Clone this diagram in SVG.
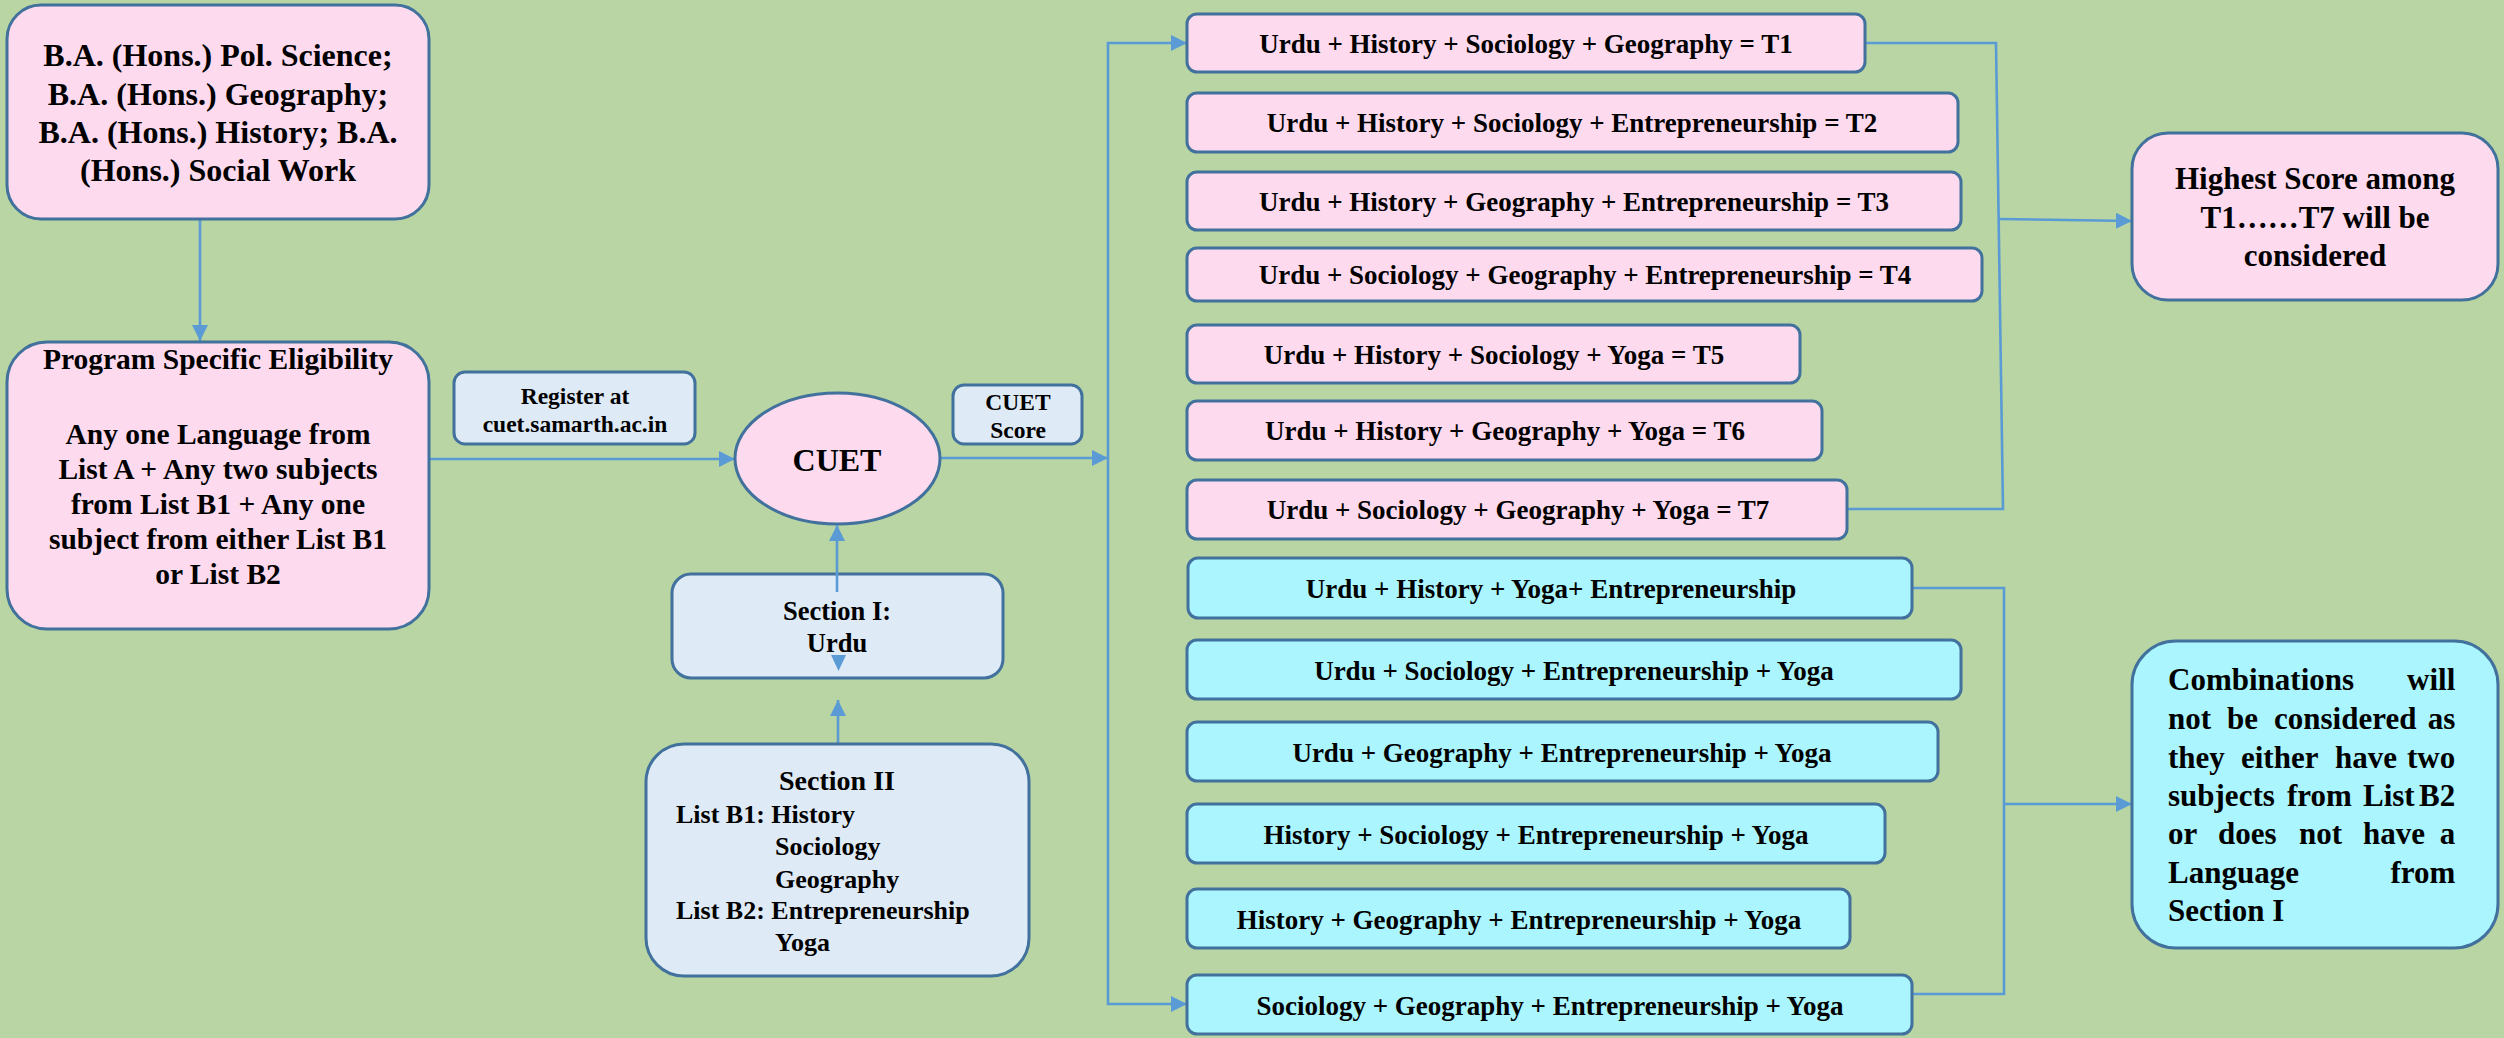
<svg xmlns="http://www.w3.org/2000/svg" width="2504" height="1038" viewBox="0 0 2504 1038">
<defs>
<marker id="ah" markerUnits="userSpaceOnUse" markerWidth="17" markerHeight="16" refX="16" refY="8" orient="auto">
<path d="M0,0 L16,8 L0,16 Z" fill="#5B9BD5"/>
</marker>
<style>
.bg{fill:#B8D5A3}
.pink{fill:#FDDAEE;stroke:#41719C;stroke-width:3}
.lb{fill:#DEEAF6;stroke:#41719C;stroke-width:3}
.cy{fill:#AAF5FE;stroke:#41719C;stroke-width:3}
.c{fill:none;stroke:#5B9BD5;stroke-width:2.6}
.t{font-family:'Liberation Serif',Tinos,'Times New Roman','DejaVu Serif',serif;font-weight:700;fill:#000}
.m{text-anchor:middle}
.r{font-size:27px;text-anchor:middle}
</style>
</defs>
<rect class="bg" x="0" y="0" width="2504" height="1038"/>

<g id="connectors">
<path class="c" d="M200,219 V341" marker-end="url(#ah)"/>
<path class="c" d="M429,459 H735" marker-end="url(#ah)"/>
<path class="c" d="M940,458 H1108" marker-end="url(#ah)"/>
<path class="c" d="M1108,458 V43 H1187" marker-end="url(#ah)"/>
<path class="c" d="M1108,458 V1004 H1187" marker-end="url(#ah)"/>
<path class="c" d="M1865,43 H1996 L2003,509 H1847"/>
<path class="c" d="M1999,219 L2132,221" marker-end="url(#ah)"/>
<path class="c" d="M1912,588 H2004 V994 H1912"/>
<path class="c" d="M2004,804 H2132" marker-end="url(#ah)"/>
<path class="c" d="M838,744 V700" marker-end="url(#ah)"/>
</g>

<g id="n-top">
<rect class="pink" x="7" y="5" width="422" height="214" rx="34"/>
<text class="t m" font-size="32"><tspan x="218" y="66">B.A. (Hons.) Pol. Science;</tspan><tspan x="218" y="105">B.A. (Hons.) Geography;</tspan><tspan x="218" y="143">B.A. (Hons.) History; B.A.</tspan><tspan x="218" y="181">(Hons.) Social Work</tspan></text>
</g>

<g id="n-elig">
<rect class="pink" x="7" y="342" width="422" height="287" rx="40"/>
<text class="t m" font-size="29.5"><tspan x="218" y="369">Program Specific Eligibility</tspan><tspan x="218" y="444">Any one Language from</tspan><tspan x="218" y="479">List A + Any two subjects</tspan><tspan x="218" y="514">from List B1 + Any one</tspan><tspan x="218" y="549">subject from either List B1</tspan><tspan x="218" y="584">or List B2</tspan></text>
</g>

<g id="n-register">
<rect class="lb" x="454" y="372" width="241" height="72" rx="11"/>
<text class="t m" font-size="23.5"><tspan x="575" y="404">Register at</tspan><tspan x="575" y="432">cuet.samarth.ac.in</tspan></text>
</g>

<g id="n-cuet">
<ellipse class="pink" cx="837.5" cy="458.5" rx="102.5" ry="65.5"/>
<text class="t m" x="837" y="471" font-size="32">CUET</text>
</g>

<g id="n-score">
<rect class="lb" x="953" y="385" width="129" height="59" rx="11"/>
<text class="t m" font-size="23.5"><tspan x="1018" y="410">CUET</tspan><tspan x="1018" y="438">Score</tspan></text>
</g>

<g id="n-sec1">
<rect class="lb" x="672" y="574" width="331" height="104" rx="19"/>
<text class="t m" font-size="26.5"><tspan x="837" y="620">Section I:</tspan><tspan x="837" y="652">Urdu</tspan></text>
</g>
<g id="connectors-2">
<path class="c" d="M837,592 V525" marker-end="url(#ah)"/>
<path d="M831,655 L846,655 L838.5,671 Z" fill="#5B9BD5"/>
</g>

<g id="n-sec2">
<rect class="lb" x="646" y="744" width="383" height="232" rx="38"/>
<text class="t m" x="837" y="790" font-size="28">Section II</text>
<text class="t" font-size="26"><tspan x="676" y="823">List B1: History</tspan><tspan x="775" y="855">Sociology</tspan><tspan x="775" y="888">Geography</tspan><tspan x="676" y="919">List B2: Entrepreneurship</tspan><tspan x="775" y="951">Yoga</tspan></text>
</g>

<g id="n-t1"><rect class="pink" x="1187" y="14" width="678" height="58" rx="10"/><text class="t r" x="1526" y="53">Urdu + History + Sociology + Geography = T1</text></g>
<g id="n-t2"><rect class="pink" x="1187" y="93" width="771" height="59" rx="10"/><text class="t r" x="1572" y="132">Urdu + History + Sociology + Entrepreneurship = T2</text></g>
<g id="n-t3"><rect class="pink" x="1187" y="172" width="774" height="58" rx="10"/><text class="t r" x="1574" y="211">Urdu + History + Geography + Entrepreneurship = T3</text></g>
<g id="n-t4"><rect class="pink" x="1187" y="248" width="795" height="53" rx="10"/><text class="t r" x="1585" y="284">Urdu + Sociology + Geography + Entrepreneurship = T4</text></g>
<g id="n-t5"><rect class="pink" x="1187" y="325" width="613" height="58" rx="10"/><text class="t r" x="1494" y="364">Urdu + History + Sociology + Yoga = T5</text></g>
<g id="n-t6"><rect class="pink" x="1187" y="401" width="635" height="59" rx="10"/><text class="t r" x="1505" y="440">Urdu + History + Geography + Yoga = T6</text></g>
<g id="n-t7"><rect class="pink" x="1187" y="480" width="660" height="59" rx="10"/><text class="t r" x="1518" y="519">Urdu + Sociology + Geography + Yoga = T7</text></g>

<g id="n-c1"><rect class="cy" x="1188" y="558" width="724" height="60" rx="10"/><text class="t r" x="1551" y="598">Urdu + History + Yoga+ Entrepreneurship</text></g>
<g id="n-c2"><rect class="cy" x="1187" y="640" width="774" height="59" rx="10"/><text class="t r" x="1574" y="680">Urdu + Sociology + Entrepreneurship + Yoga</text></g>
<g id="n-c3"><rect class="cy" x="1187" y="722" width="751" height="59" rx="10"/><text class="t r" x="1562" y="762">Urdu + Geography + Entrepreneurship + Yoga</text></g>
<g id="n-c4"><rect class="cy" x="1187" y="804" width="698" height="59" rx="10"/><text class="t r" x="1536" y="844">History + Sociology + Entrepreneurship + Yoga</text></g>
<g id="n-c5"><rect class="cy" x="1187" y="889" width="663" height="59" rx="10"/><text class="t r" x="1519" y="929">History + Geography + Entrepreneurship + Yoga</text></g>
<g id="n-c6"><rect class="cy" x="1187" y="975" width="725" height="59" rx="10"/><text class="t r" x="1550" y="1015">Sociology + Geography + Entrepreneurship + Yoga</text></g>

<g id="n-highest">
<rect class="pink" x="2132" y="133" width="366" height="167" rx="36"/>
<text class="t m" font-size="31"><tspan x="2315" y="189">Highest Score among</tspan><tspan x="2315" y="228">T1……T7 will be</tspan><tspan x="2315" y="266">considered</tspan></text>
</g>

<g id="n-combos">
<rect class="cy" x="2132" y="641" width="366" height="307" rx="44"/>
<text class="t" font-size="31">
<tspan x="2168" y="690">Combinations</tspan><tspan x="2463" y="690" text-anchor="end">will</tspan>
<tspan x="2168" y="729">not</tspan><tspan x="2227" y="729">be</tspan><tspan x="2274" y="729">considered</tspan><tspan x="2463" y="729" text-anchor="end">as</tspan>
<tspan x="2168" y="768">they</tspan><tspan x="2241" y="768">either</tspan><tspan x="2335" y="768">have</tspan><tspan x="2463" y="768" text-anchor="end">two</tspan>
<tspan x="2168" y="806">subjects</tspan><tspan x="2287" y="806">from</tspan><tspan x="2363" y="806">List</tspan><tspan x="2463" y="806" text-anchor="end">B2</tspan>
<tspan x="2168" y="844">or</tspan><tspan x="2218" y="844">does</tspan><tspan x="2299" y="844">not</tspan><tspan x="2363" y="844">have</tspan><tspan x="2463" y="844" text-anchor="end">a</tspan>
<tspan x="2168" y="883">Language</tspan><tspan x="2463" y="883" text-anchor="end">from</tspan>
<tspan x="2168" y="921">Section I</tspan>
</text>
</g>
</svg>
